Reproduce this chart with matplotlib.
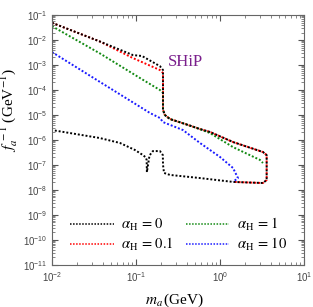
import numpy as np
import matplotlib
matplotlib.use("Agg")
import matplotlib.pyplot as plt
from matplotlib.ticker import LogLocator, NullFormatter

plt.rcParams['mathtext.fontset'] = 'stix'
plt.rcParams['font.family'] = ['Liberation Serif', 'DejaVu Serif']

# alpha_H = 0 : closed contour (upper edge, right edge, lower edge back left)
m_a0 = [0.01, 0.0373, 0.092, 0.118, 0.193, 0.21, 0.21, 0.221, 0.254, 0.383, 0.578, 0.76,
        1.43, 3.25, 3.6, 3.6, 3.25, 1.43, 0.578, 0.254, 0.216, 0.21, 0.209, 0.193, 0.159,
        0.145, 0.135, 0.134, 0.131, 0.121, 0.097, 0.0645, 0.037, 0.01]
f_a0 = [4.9e-2, 8.7e-3, 2.5e-3, 2.3e-3, 9e-4, 6.3e-4, 1.6e-5, 1.0e-5, 6.9e-6, 4.4e-6, 2.75e-6, 2.1e-6,
        8.3e-7, 3.3e-7, 2.5e-7, 2.5e-8, 1.9e-8, 2.1e-8, 3.0e-8, 4.0e-8, 4.8e-8, 1.0e-7, 2.5e-7, 3.6e-7, 3.6e-7,
        2.4e-7, 5.2e-8, 1.6e-7, 2.0e-7, 2.5e-7, 4.0e-7, 7.6e-7, 1.2e-6, 2.5e-6]

# alpha_H = 0.1
m_a01 = [0.01, 0.0373, 0.092, 0.193, 0.21, 0.21, 0.221, 0.254, 0.383, 0.578, 0.76,
         1.43, 3.25, 3.6, 3.6, 3.25, 1.43]
f_a01 = [4.9e-2, 8.7e-3, 1.9e-3, 6.3e-4, 4.8e-4, 1.6e-5, 1.0e-5, 6.9e-6, 4.4e-6, 2.75e-6, 2.1e-6,
         8.3e-7, 3.3e-7, 2.5e-7, 2.5e-8, 1.9e-8, 2.1e-8]

# alpha_H = 1
m_a1 = [0.01, 0.0373, 0.112, 0.193, 0.21, 0.21, 0.221, 0.254, 0.383, 0.578, 0.76, 1.43, 2.99, 3.25]
f_a1 = [3.6e-2, 2.9e-3, 3.0e-4, 1.0e-4, 7.6e-5, 1.6e-5, 1.0e-5, 6.9e-6, 4.4e-6, 2.7e-6, 1.9e-6,
        5.2e-7, 1.6e-7, 1.2e-7]

# alpha_H = 10
m_a10 = [0.01, 0.0373, 0.147, 0.193, 0.21, 0.363, 0.578, 1.0, 1.43, 1.64, 1.43]
f_a10 = [3.3e-3, 2.1e-4, 1.2e-5, 7.6e-6, 5.2e-6, 2.5e-6, 7.6e-7, 2.1e-7, 7.6e-8, 3.0e-8, 2.1e-8]

series = [
    (m_a01, f_a01, 'red', r'$\alpha_{\rm H}\,=\,0.1$'),
    (m_a1, f_a1, '#138a13', r'$\alpha_{\rm H}\,=\,1$'),
    (m_a10, f_a10, '#1a1aff', r'$\alpha_{\rm H}\,=\,10$'),
    (m_a0, f_a0, 'black', r'$\alpha_{\rm H}\,=\,0$'),
]

fig = plt.figure(figsize=(3.13, 3.07), dpi=100)
ax = fig.add_axes([0.166, 0.137, 0.805, 0.814])

lines = {}
for m, f, c, lab in series:
    ln, = ax.plot(m, f, color=c, ls=(0, (1, 1)), lw=1.4, label=lab)
    lines[lab] = ln

ax.set_xscale('log')
ax.set_yscale('log')
ax.set_xlim(1e-2, 10)
ax.set_ylim(1e-11, 1e-1)

ax.xaxis.set_major_locator(LogLocator(base=10, numticks=20))
ax.xaxis.set_minor_locator(LogLocator(base=10, subs=np.arange(2, 10), numticks=50))
ax.yaxis.set_major_locator(LogLocator(base=10, numticks=20))
ax.yaxis.set_minor_locator(LogLocator(base=10, subs=np.arange(2, 10), numticks=50))
ax.xaxis.set_minor_formatter(NullFormatter())
ax.yaxis.set_minor_formatter(NullFormatter())

ax.tick_params(which='both', direction='in', top=True, right=True, colors='#555555',
               labelcolor='#444444')
ax.tick_params(which='major', length=4, width=0.8, labelsize=7)
ax.tick_params(which='minor', length=2, width=0.5)
for lbl in ax.get_xticklabels() + ax.get_yticklabels():
    lbl.set_family('Liberation Sans')
for s in ax.spines.values():
    s.set_color('#666666')

ax.set_xlabel(r'$m_a\,$(GeV)', fontsize=11)
ax.xaxis.set_label_coords(0.485, -0.105)
ax.set_ylabel(r'$f_a^{\;-1}\;$(GeV$^{-1}$)', fontsize=11)
ax.yaxis.set_label_coords(-0.127, 0.62)

ax.text(0.39, 1.3e-3, 'SHiP', color='#7a1f8c', fontsize=12, ha='center', va='center')

order = [r'$\alpha_{\rm H}\,=\,0$', r'$\alpha_{\rm H}\,=\,0.1$',
         r'$\alpha_{\rm H}\,=\,1$', r'$\alpha_{\rm H}\,=\,10$']
leg = ax.legend([lines[k] for k in order], order, ncol=2, frameon=False, fontsize=10.5,
                loc='lower left', bbox_to_anchor=(0.02, -0.005), handlelength=3.0,
                columnspacing=0.8, handletextpad=0.5, labelspacing=0.2)
for h in leg.legend_handles:
    h.set_linewidth(1.1)

fig.savefig('out.png', dpi=100)
